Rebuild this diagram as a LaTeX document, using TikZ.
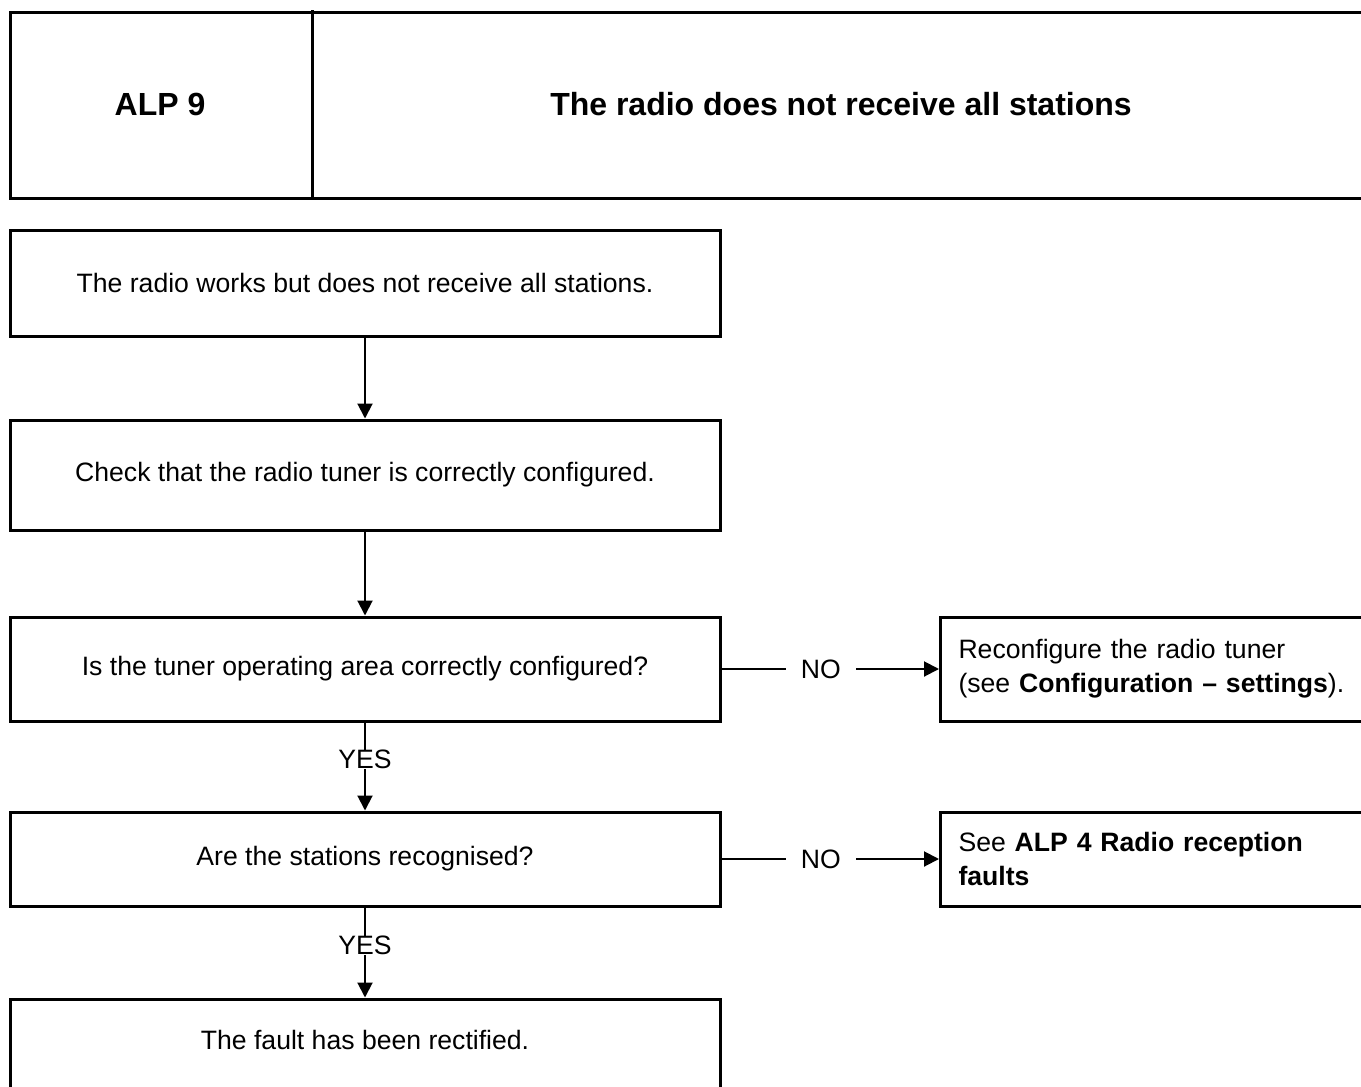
\documentclass[tikz,border=0pt]{standalone}
\usepackage{fontspec}
\setmainfont{Liberation Sans}
\usetikzlibrary{arrows.meta}
\begin{document}
\begin{tikzpicture}[x=1pt,y=-1pt,
  frame/.style={line width=3pt},
  box/.style={draw, line width=3pt, minimum width=710pt, minimum height=106pt, inner sep=0pt, font=\fontsize{26.6}{31}\selectfont},
  sidebox/.style={draw, line width=3pt, anchor=west, text width=500pt, inner xsep=18pt, inner ysep=0pt, minimum height=104pt, align=left, font=\fontsize{26.6}{34}\selectfont},
  head/.style={font=\fontsize{32}{38}\selectfont\bfseries, inner sep=0pt},
  conn/.style={line width=2pt, -{Triangle[length=15pt,width=15pt]}},
  lbl/.style={fill=white, font=\fontsize{26.6}{31}\selectfont},
]
\useasboundingbox (0,0) rectangle (1361,1087);
\clip (0,0) rectangle (1361,1087);
% header
\draw[frame] (1400,12) -- (10,12) -- (10,198) -- (1400,198);
\draw[frame] (312,10) -- (312,198);
\node[head] (alp) at (160,104) {ALP 9};
\node[head] (title) at (841,104) {The radio does not receive all stations};
% main boxes
\node[box] (b1) at (365,283) {The radio works but does not receive all stations.};
\node[box, minimum height=110pt] (b2) at (365,475) {Check that the radio tuner is correctly configured.};
\node[box, minimum height=104pt] (b3) at (365,669) {Is the tuner operating area correctly configured?};
\node[box, minimum height=94pt] (b4) at (365,859) {Are the stations recognised?};
\node[box, minimum height=180pt] (b5) at (365,1089) {};
\node[font=\fontsize{26.6}{31}\selectfont] (b5t) at (365,1040) {The fault has been rectified.};
% side boxes
\node[sidebox] (s1) at (939,669) {Reconfigure the radio tuner\\(see \textbf{Configuration -- settings}).};
\node[sidebox, minimum height=94pt] (s2) at (939,859) {See \textbf{ALP 4 Radio reception}\\\textbf{faults}};
% connectors
\draw[conn] (b1.south) -- (b2.north);
\draw[conn] (b2.south) -- (b3.north);
\draw[conn] (b3.south) -- node[lbl, pos=0.42, inner xsep=1pt, inner ysep=0pt] {YES} (b4.north);
\draw[conn] (b4.south) -- node[lbl, pos=0.42, inner xsep=1pt, inner ysep=0pt] {YES} (b5.north);
\draw[conn] (b3.east) -- node[lbl, pos=0.457, inner xsep=15pt] {NO} (s1.west);
\draw[conn] (b4.east) -- node[lbl, pos=0.457, inner xsep=15pt] {NO} (s2.west);
\end{tikzpicture}
\end{document}
